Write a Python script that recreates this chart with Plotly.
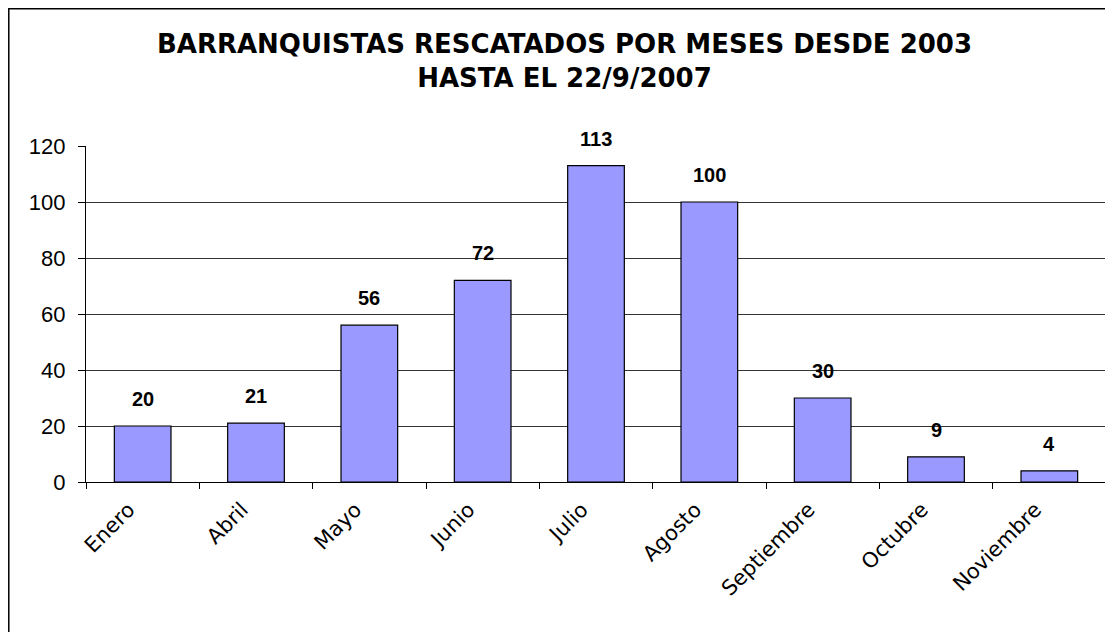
import plotly.graph_objects as go

meses = ['Enero', 'Abril', 'Mayo', 'Junio', 'Julio', 'Agosto',
         'Septiembre', 'Octubre', 'Noviembre']
rescatados = [20, 21, 56, 72, 113, 100, 30, 9, 4]
y_ticks = [0, 20, 40, 60, 80, 100, 120]

titulo = 'BARRANQUISTAS RESCATADOS POR MESES DESDE 2003<br>HASTA EL 22/9/2007'

fig = go.Figure()
fig.add_trace(go.Bar(
    x=meses, y=rescatados,
    marker=dict(color='#9999FF', line=dict(color='#000000', width=1.2)),
    hoverinfo='x+y',
))

# etiquetas de valor encima de cada barra
for m, v in zip(meses, rescatados):
    fig.add_annotation(x=m, y=v, text='<b>%d</b>' % v, showarrow=False,
                       yanchor='bottom', yshift=14,
                       font=dict(family='Liberation Sans, Arial', size=20, color='#000000'))

# marco del grafico (solo se ven el borde izquierdo y el superior)
fig.add_shape(type='rect', xref='paper', yref='paper',
              x0=-0.0757, x1=1.05, y0=-0.7, y1=1.4085,
              line=dict(color='#000000', width=1.5), layer='below')

# la pagina tiene 8px de margen en el body, de ahi l/t algo menores
fig.update_layout(
    width=1113, height=632,
    margin=dict(l=78, r=15, t=138, b=158),
    paper_bgcolor='white', plot_bgcolor='white',
    showlegend=False, bargap=0.5,
    title=dict(text=titulo, x=0.5, xanchor='center', xref='container',
               y=1 - 45 / 632, yanchor='top', yref='container',
               font=dict(family='DejaVu Sans', size=26, color='#000000', weight='bold')),
)
fig.update_xaxes(
    type='category', tickangle=-45, tickson='boundaries',
    ticks='outside', ticklen=6, tickcolor='#000000',
    showline=True, linecolor='#000000', linewidth=1.2,
    showgrid=False, automargin=False,
    ticklabelstandoff=6, ticklabelshift=-14,
    tickfont=dict(family='DejaVu Sans', size=21, color='#000000'),
)
fig.update_yaxes(
    range=[0, 120], tickvals=y_ticks,
    ticks='outside', ticklen=7, tickcolor='#000000',
    showline=True, linecolor='#000000', linewidth=1.2,
    showgrid=True, gridcolor='#333333', gridwidth=1,
    zeroline=False, automargin=False, ticklabelstandoff=8,
    tickfont=dict(family='Liberation Sans, Arial', size=22, color='#000000'),
)

fig.write_html("out.html")
